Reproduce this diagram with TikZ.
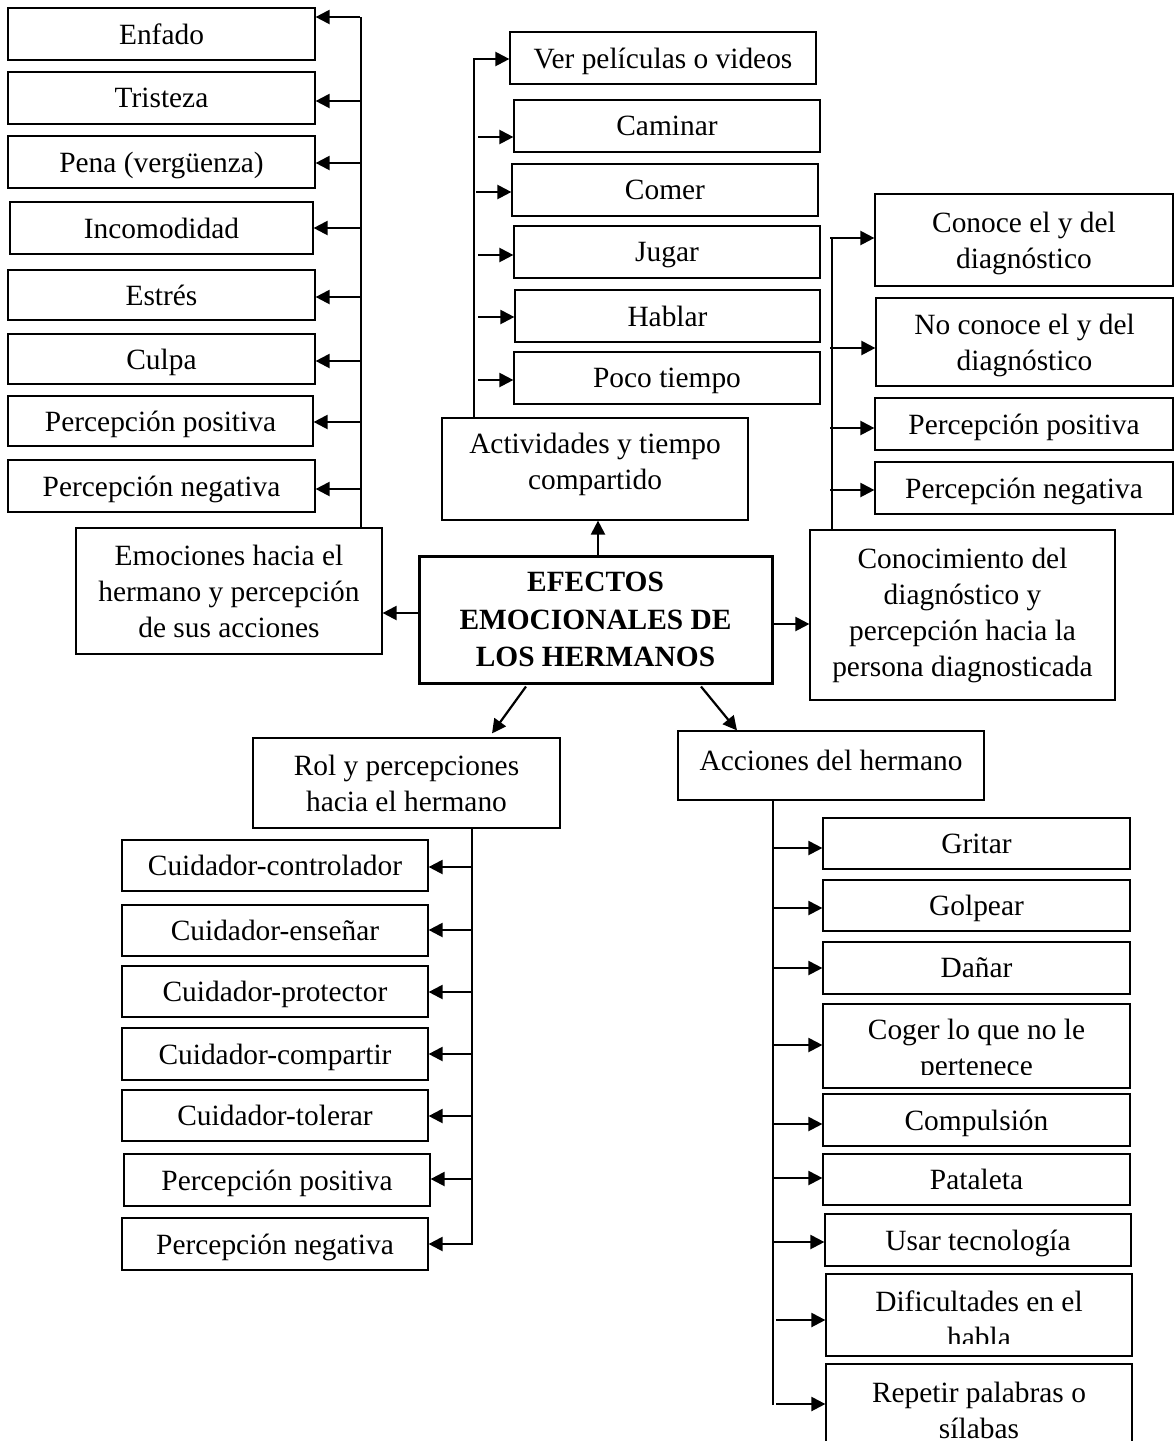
\documentclass[tikz,border=0pt]{standalone}
\usepackage{fontspec}
\setmainfont{Liberation Serif}
\usetikzlibrary{arrows.meta,calc}
% \mkbox[text shift in px, down]{name}{x1}{y1}{x2}{y2}{text}
\newcommand\mkbox[7][0]{%
  \node[box,minimum width={(#5-#3)*0.5pt},minimum height={(#6-#4)*0.5pt}]
    (#2) at ({(#3+#5)/2},{(#4+#6)/2}) {};
  \node[txt] (#2-t) at ($(#2.center)+(0,#1)$) {#7};}
\newcommand\mkmain[7][0]{%
  \node[box,line width=1.5pt,minimum width={(#5-#3)*0.5pt},minimum height={(#6-#4)*0.5pt}]
    (#2) at ({(#3+#5)/2},{(#4+#6)/2}) {};
  \node[txt,font=\fontsize{14.7pt}{18.75pt}\selectfont\bfseries] (#2-t) at ($(#2.center)+(0,#1)$) {#7};}
\begin{document}
\begin{tikzpicture}[x=0.5pt,y=-0.5pt,
  box/.style={draw, line width=0.6pt, inner sep=0pt},
  txt/.style={inner sep=0pt, align=center, text depth=0pt, font=\fontsize{14.7pt}{18pt}\selectfont},
  arr/.style={-{Triangle[length=7pt,width=7pt]}, line width=1.1pt},
  trunk/.style={line width=0.8pt}]
\useasboundingbox (0,0) rectangle (1174,1441);
\clip (0,0) rectangle (1174,1441);
\fill[white] (0,0) rectangle (1174,1441);

% ---------- central ----------
\mkmain{cen}{419}{556}{772}{683}{EFECTOS\\EMOCIONALES DE\\LOS HERMANOS}

% ---------- emociones ----------
\mkbox{emo}{76}{528}{382}{654}{Emociones hacia el\\hermano y percepción\\de sus acciones}
\mkbox{enf}{8}{8}{315}{60}{Enfado}
\mkbox{tri}{8}{72}{315}{124}{Tristeza}
\mkbox{pen}{8}{136}{315}{188}{Pena (vergüenza)}
\mkbox{inc}{10}{202}{313}{254}{Incomodidad}
\mkbox{est}{8}{270}{315}{320}{Estrés}
\mkbox{cul}{8}{334}{315}{384}{Culpa}
\mkbox{epp}{8}{396}{313}{446}{Percepción positiva}
\mkbox{epn}{8}{460}{315}{512}{Percepción negativa}
\coordinate (et) at (361,17);
\draw[trunk] (et) -- (et|-emo.north);
\foreach \n/\y in {enf/17,tri/101,pen/163,inc/228,est/297,cul/361,epp/422,epn/489}{
  \coordinate (a-\n) at (360,\y);
  \draw[arr] (a-\n) -- (a-\n -| \n.east);
}

% ---------- actividades ----------
\mkbox[-8]{act}{442}{418}{748}{520}{Actividades y tiempo\\compartido}
\mkbox{ver}{510}{32}{816}{84}{Ver películas o videos}
\mkbox{cam}{514}{100}{820}{152}{Caminar}
\mkbox{com}{512}{164}{818}{216}{Comer}
\mkbox{jug}{514}{226}{820}{278}{Jugar}
\mkbox{hab}{515}{290}{820}{342}{Hablar}
\mkbox{poc}{514}{352}{820}{404}{Poco tiempo}
\coordinate (at) at (474,58);
\draw[trunk] (at) -- (at|-act.north);
\foreach \n/\x/\y in {ver/474/59,cam/478/137,com/476/192,jug/478/255,hab/478/317,poc/478/380}{
  \coordinate (b-\n) at (\x,\y);
  \draw[arr] (b-\n) -- (b-\n -| \n.west);
}

% ---------- conocimiento ----------
\mkbox[-3]{con}{810}{530}{1115}{700}{Conocimiento del\\diagnóstico y\\percepción hacia la\\persona diagnosticada}
\mkbox{kn1}{875}{194}{1173}{286}{Conoce el y del\\diagnóstico}
\mkbox{kn2}{876}{298}{1173}{386}{No conoce el y del\\diagnóstico}
\mkbox{kpp}{875}{398}{1173}{450}{Percepción positiva}
\mkbox{kpn}{875}{462}{1173}{514}{Percepción negativa}
\coordinate (kt) at (832,237);
\draw[trunk] (kt) -- (kt|-con.north);
\foreach \n/\y in {kn1/238,kn2/348,kpp/428,kpn/490}{
  \coordinate (c-\n) at (830,\y);
  \draw[arr] (c-\n) -- (c-\n -| \n.west);
}

% ---------- rol ----------
\mkbox{rol}{253}{738}{560}{828}{Rol y percepciones\\hacia el hermano}
\mkbox{rcc}{122}{840}{428}{891}{Cuidador-controlador}
\mkbox{rce}{122}{905}{428}{956}{Cuidador-enseñar}
\mkbox{rcp}{122}{966}{428}{1017}{Cuidador-protector}
\mkbox{rcm}{122}{1028}{428}{1080}{Cuidador-compartir}
\mkbox{rct}{122}{1090}{428}{1141}{Cuidador-tolerar}
\mkbox{rpp}{124}{1154}{430}{1206}{Percepción positiva}
\mkbox{rpn}{122}{1218}{428}{1270}{Percepción negativa}
\coordinate (rt) at (472,1245);
\draw[trunk] (rt) -- (rt|-rol.south);
\foreach \n/\y in {rcc/867,rce/930,rcp/992,rcm/1054,rct/1116,rpp/1179,rpn/1244}{
  \coordinate (d-\n) at (472,\y);
  \draw[arr] (d-\n) -- (d-\n -| \n.east);
}

% ---------- acciones ----------
\mkbox[-5]{acc}{678}{731}{984}{800}{Acciones del hermano}
\mkbox{gri}{823}{818}{1130}{869}{Gritar}
\mkbox{gol}{823}{880}{1130}{931}{Golpear}
\mkbox{dan}{823}{942}{1130}{994}{Dañar}
\mkbox[1]{cog}{823}{1004}{1130}{1088}{Coger lo que no le\\pertenece}
\mkbox{cmp}{823}{1094}{1130}{1146}{Compulsión}
\mkbox{pat}{823}{1154}{1130}{1205}{Pataleta}
\mkbox{usa}{825}{1214}{1131}{1266}{Usar tecnología}
\mkbox[4]{dif}{826}{1274}{1132}{1356}{Dificultades en el\\habla}
\mkbox[-2]{rep}{826}{1364}{1132}{1460}{Repetir palabras o\\sílabas}
% text clipped by the boxes, as in the reference
\fill[white] (824.5,1075) rectangle (1129,1087);
\fill[white] (827.5,1344) rectangle (1131,1355);
\coordinate (ct) at (773,1405);
\draw[trunk] (ct) -- (ct|-acc.south);
\foreach \n/\x/\y in {gri/772/848,gol/772/908,dan/773/968,cog/772/1045,cmp/772/1124,pat/772/1178,usa/773/1242,dif/776/1320,rep/776/1404}{
  \coordinate (e-\n) at (\x,\y);
  \draw[arr] (e-\n) -- (e-\n -| \n.west);
}

% ---------- main connectors ----------
\coordinate (m1) at (419,613);
\draw[arr] (m1) -- (m1 -| emo.east);
\coordinate (m2) at (772,624);
\draw[arr] (m2) -- (m2 -| con.west);
\draw[arr] ($(cen.north)+(2.5,0)$) -- ($(cen.north|-act.south)+(2.5,0)$);
\draw[arr] ($(cen.south)+(-69.5,2)$) -- ($(rol.north)+(85.5,-4)$);
\draw[arr] ($(cen.south)+(105.5,2)$) -- ($(acc.north)+(-94,0)$);
\end{tikzpicture}
\end{document}
